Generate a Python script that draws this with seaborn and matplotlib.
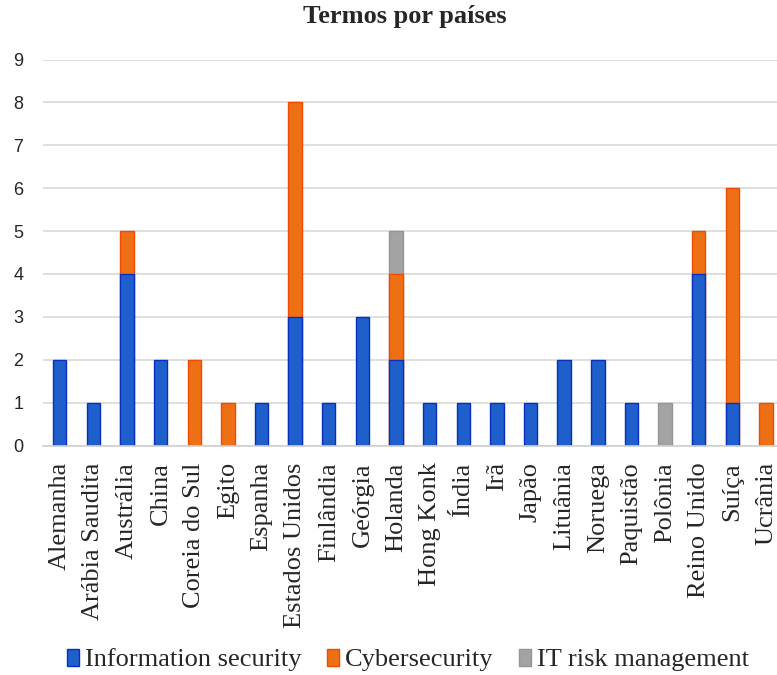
import numpy as np
import pandas as pd
import seaborn as sns
import matplotlib.pyplot as plt
from matplotlib.patches import Patch

# Data
countries = ['Alemanha', 'Arábia Saudita', 'Austrália', 'China', 'Coreia do Sul',
             'Egito', 'Espanha', 'Estados Unidos', 'Finlândia', 'Geórgia', 'Holanda',
             'Hong Konk', 'Índia', 'Irã', 'Japão', 'Lituânia', 'Noruega', 'Paquistão',
             'Polônia', 'Reino Unido', 'Suíça', 'Ucrânia']
info_security = [2, 1, 4, 2, 0, 0, 1, 3, 1, 3, 2, 1, 1, 1, 1, 2, 2, 1, 0, 4, 1, 0]
cybersecurity = [0, 0, 1, 0, 2, 1, 0, 5, 0, 0, 2, 0, 0, 0, 0, 0, 0, 0, 0, 1, 5, 1]
it_risk = [0, 0, 0, 0, 0, 0, 0, 0, 0, 0, 1, 0, 0, 0, 0, 0, 0, 0, 1, 0, 0, 0]
series_names = ['Information security', 'Cybersecurity', 'IT risk management']

face_colors = ['#1F5FCB', '#EE7015', '#A3A3A3']
edge_colors = ['#0A2FC0', '#F04A05', '#959595']

sns.set_theme(style='white')
plt.rcParams['font.family'] = ['Liberation Serif', 'DejaVu Serif']

df = pd.DataFrame({'country': countries, 'is': info_security,
                   'cyber': cybersecurity, 'it': it_risk})
# cumulative heights so the stacked bars can be drawn as overlays
df['top_is'] = df['is']
df['top_cyber'] = df['is'] + df['cyber']
df['top_it'] = df['top_cyber'] + df['it']

W, H = 777, 675
fig = plt.figure(figsize=(W / 100, H / 100), dpi=100)
ax = fig.add_axes([42.9 / W, 1 - 445.5 / H, (782.8 - 42.9) / W, (445.5 - 59.5) / H])

layers = [('top_it', 2, 'it'), ('top_cyber', 1, 'cyber'), ('top_is', 0, 'is')]
for col, i, own in layers:
    heights = df[col].where(df[own] > 0)
    sns.barplot(x=df['country'], y=heights, ax=ax, color=face_colors[i],
                saturation=1, width=0.4, edgecolor=edge_colors[i],
                linewidth=1.0, order=countries)

ax.set_ylim(0, 9)
ax.set_xlim(-0.5, len(countries) - 0.5)
ax.set_yticks(range(0, 10))
ax.yaxis.grid(True, color='#D9D9D9', linewidth=1.2)
ax.set_axisbelow(True)
for s in ['top', 'right', 'left']:
    ax.spines[s].set_visible(False)
ax.spines['bottom'].set_color('#D0D0D0')
ax.spines['bottom'].set_linewidth(1.2)
ax.set_xlabel('')
ax.set_ylabel('')
ax.tick_params(axis='y', length=0, pad=14, labelsize=13, colors='#262626')
ax.tick_params(axis='x', length=0, pad=12)
for lbl in ax.get_yticklabels():
    lbl.set_family(['Liberation Sans', 'DejaVu Sans'])
ax.set_xticks(range(len(countries)))
ax.set_xticklabels(countries, rotation=90, fontsize=19, va='top', ha='center')

fig.text(405 / W, 1 - 17 / H, 'Termos por países', ha='center', va='center',
         fontsize=19, fontweight='bold')

handles = [Patch(facecolor=face_colors[i], edgecolor=edge_colors[i], label=series_names[i])
           for i in range(3)]
fig.legend(handles=handles, loc='center', bbox_to_anchor=(408 / W, 1 - 660 / H),
           ncol=3, frameon=False, fontsize=19, handlelength=0.45, handleheight=0.6,
           handletextpad=0.2, columnspacing=1.0, borderaxespad=0)

fig.savefig('out.png', dpi=100)
